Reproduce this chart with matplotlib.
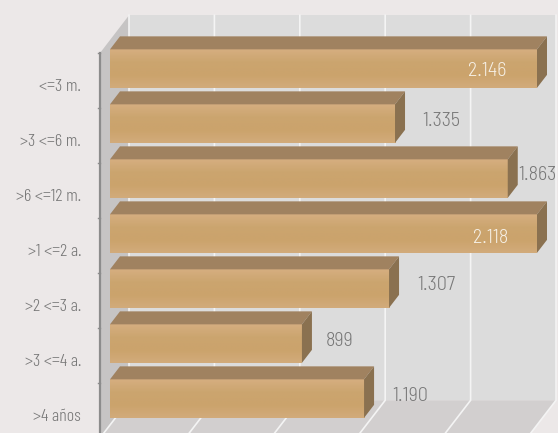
import numpy as np
import matplotlib
matplotlib.use("Agg")
import matplotlib.pyplot as plt
from matplotlib.colors import LinearSegmentedColormap
from matplotlib.patches import Polygon

categories = ["<=3 m.", ">3 <=6 m.", ">6 <=12 m.", ">1 <=2 a.", ">2 <=3 a.", ">3 <=4 a.", ">4 años"]
values = [2146, 1335, 1863, 2118, 1307, 899, 1190]
value_labels = ["2.146", "1.335", "1.863", "2.118", "1.307", "899", "1.190"]
grid_values = [0, 400, 800, 1200, 1600, 2000]
x_max = 2000

W, H = 558, 433
VAL_FONT = ['Barlow Semi Condensed', 'Roboto Condensed', 'Roboto', 'DejaVu Sans']
CAT_FONT = ['Barlow Condensed', 'Roboto Condensed', 'Roboto', 'DejaVu Sans']
BG = "#ece8e8"
fig = plt.figure(figsize=(W / 100, H / 100), dpi=100, facecolor=BG)
L, R, T, B = 110, 537, 40, 425
ax = fig.add_axes([L / W, 1 - B / H, (R - L) / W, (B - T) / H])
ax.set_xlim(0, x_max)
ax.set_ylim(6.5, -0.5)
ax.axis("off")

ux = x_max / (R - L)      # data per px, x
uy = 7 / (B - T)          # data per px, y (downward positive)

def P(v, r, depth=0.0):
    """Data point at value v, row edge r, shifted along the depth direction (px of x shift)."""
    return (v + depth * ux, r - depth * 1.3 * uy)

def poly(pts, color, z, **kw):
    ax.add_patch(Polygon(pts, closed=True, facecolor=color, edgecolor="none", zorder=z, clip_on=False, **kw))

BACK, AXISD = 19, -10
e0, e1 = -0.5, 6.5
# back wall, side wall, floor
poly([P(0, e0, BACK), P(x_max, e0, BACK), P(x_max, e1, BACK), P(0, e1, BACK)], "#dcdcdc", 1)
poly([P(0, e0, AXISD), P(0, e0, BACK), P(0, e1, BACK), P(0, e1, AXISD)], "#c6c4c4", 1.1)
poly([P(0, e1, BACK), P(x_max, e1, BACK), P(x_max, e1, AXISD), P(0, e1, AXISD)], "#d2cfcf", 1.2)

# grid
for g in grid_values:
    a, b, c = P(g, e0, BACK), P(g, e1, BACK), P(g, e1, AXISD)
    ax.plot([a[0], b[0], c[0]], [a[1], b[1], c[1]], color="#f4f4f4", lw=1.2, zorder=2, clip_on=False,
            solid_joinstyle="miter")

# axis line and ticks
a, b = P(0, e0, AXISD), P(0, e1, AXISD)
ax.plot([a[0], b[0]], [a[1], b[1]], color="#8c8c8c", lw=1.6, zorder=3, clip_on=False)
for k in range(7):
    p = P(0, k - 0.5, AXISD)
    ax.plot([p[0] - 2.5 * ux, p[0]], [p[1], p[1]], color="#8c8c8c", lw=1.0, zorder=3, clip_on=False)

cmap = LinearSegmentedColormap.from_list("bar", ["#d6ae80", "#cba56f", "#cba36c", "#d2ab7b"])
grad = np.linspace(0, 1, 64).reshape(-1, 1)
bw = 0.35
label_pos = [(487, 70.5), (441, 120.5), (537.5, 174.5), (491, 237.5), (436, 284.5), (340, 340.5), (410, 395.5)]
label_col = ["#f6f0e6", "#777777", "#777777", "#f6f0e6", "#777777", "#777777", "#777777"]

for i, v in enumerate(values):
    w = min(v, x_max)
    y0, y1 = i - bw + 0.02, i + bw + 0.02
    ax.imshow(grad, cmap=cmap, extent=[0, w, y1, y0], aspect="auto", zorder=5, interpolation="bilinear")
    poly([P(0, y0), P(w, y0), P(w, y0, 10), P(0, y0, 10)], "#a08260", 5)
    poly([P(w, y0), P(w, y1), P(w, y1, 10), P(w, y0, 10)], "#8a7150", 5)
    lx, ly = label_pos[i]
    ax.text((lx - L) * ux, i + 0.02 + (ly - (T + 55 * i + 28.5)) * uy, value_labels[i], color=label_col[i],
            ha="center", va="center", fontsize=14.5, fontweight=300, family=VAL_FONT, zorder=6, clip_on=False)
    ax.text((81 - L) * ux, i + 19 * uy, categories[i], color="#777777", ha="right", va="center",
            fontsize=13, fontweight=300, family=CAT_FONT, zorder=6, clip_on=False)

ax.set_xlim(0, x_max)
ax.set_ylim(6.5, -0.5)
fig.savefig("out.png", dpi=100, facecolor=BG)
